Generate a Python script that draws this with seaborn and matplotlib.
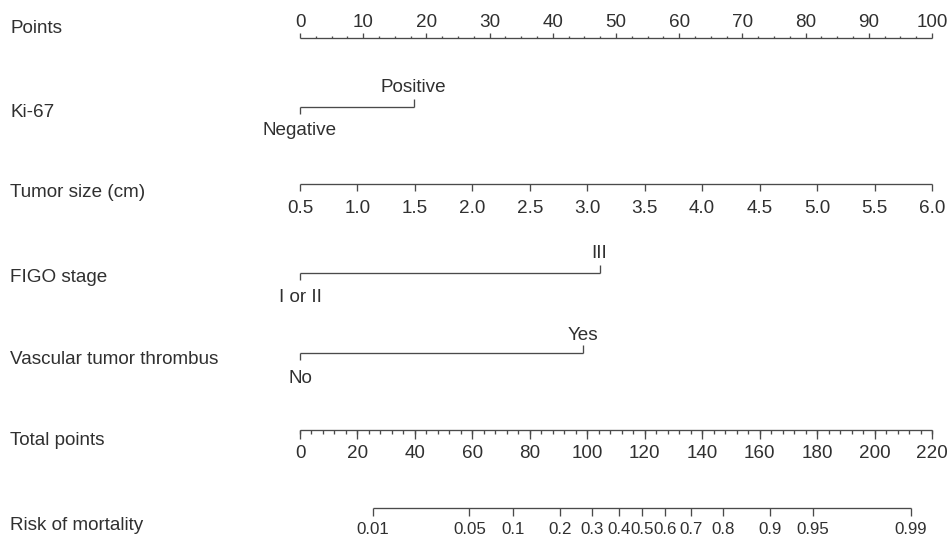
import numpy as np
import pandas as pd
import matplotlib
matplotlib.use("Agg")
import matplotlib.pyplot as plt
import seaborn as sns

# ---------------- data ----------------
row_names = ["Points", "Ki-67", "Tumor size (cm)", "FIGO stage",
             "Vascular tumor thrombus", "Total points", "Risk of mortality"]

points_major = [0, 10, 20, 30, 40, 50, 60, 70, 80, 90, 100]
points_minor_step = 2.5

ki67_levels = ["Negative", "Positive"]
ki67_points = [0.0, 18.0]

tumor_size_ticks = [0.5, 1.0, 1.5, 2.0, 2.5, 3.0, 3.5, 4.0, 4.5, 5.0, 5.5, 6.0]
tumor_size_tick_labels = ["0.5", "1.0", "1.5", "2.0", "2.5", "3.0", "3.5",
                          "4.0", "4.5", "5.0", "5.5", "6.0"]
tumor_size_range = [0.5, 6.0]
tumor_size_points_range = [0.0, 100.0]

figo_levels = ["I or II", "III"]
figo_points = [0.0, 47.4]

vascular_levels = ["No", "Yes"]
vascular_points = [0.0, 44.8]

total_major = [0, 20, 40, 60, 80, 100, 120, 140, 160, 180, 200, 220]
total_minor_step = 4
total_max = 220

risk_labels = ["0.01", "0.05", "0.1", "0.2", "0.3", "0.4", "0.5", "0.6",
               "0.7", "0.8", "0.9", "0.95", "0.99"]
risk_total_points = [25.4, 59.0, 74.1, 90.5, 101.6, 110.9, 119.0, 127.2,
                     136.0, 147.2, 163.7, 178.6, 212.7]

# ---------------- style / layout ----------------
sns.set_theme(style="white")
plt.rcParams["font.family"] = ["Liberation Sans", "DejaVu Sans"]

LINE = "#4a4a4a"
TXT = "#303030"
FS = 13.6
FS_RISK = 12.2
LW = 0.95

fig = plt.figure(figsize=(9.5, 5.37), dpi=100)
ax = fig.add_axes([0, 0, 1, 1])
px_per_pt = 6.32
x0_px = 300
ax.set_xlim(-x0_px / px_per_pt, (950 - x0_px) / px_per_pt)
ax.set_ylim(537, 0)

# vertical layout (pixel rows)
row_line_y = [38.3, 107.3, 184.3, 272.7, 353.3, 430.0, 508.0]
row_name_base = [33, 117, 197, 282, 364, 445, 530]

segs = []
def seg(xa, xb, ya, yb):
    segs.append(dict(x=[xa, xb], y=[ya, yb]))

texts = []
def txt(x, y, s, ha="center", fs=FS):
    texts.append((x, y, s, ha, fs))

# Points row
y = row_line_y[0]
seg(0, 100, y, y)
minors = np.arange(0, 100 + 1e-9, points_minor_step)
for v in minors:
    major = any(abs(v - m) < 1e-9 for m in points_major)
    seg(v, v, y, y - (5.0 if major else 2.6))
for m in points_major:
    txt(m, 27, str(m))

# Categorical rows
def cat_row(y, levels, pts, up_base, down_base):
    seg(pts[0], pts[1], y, y)
    seg(pts[0], pts[0], y, y + 7)
    seg(pts[1], pts[1], y, y - 8)
    txt(pts[0], down_base, levels[0])
    txt(pts[1], up_base, levels[1])

cat_row(row_line_y[1], ki67_levels, ki67_points, 92, 135)

# Tumor size row
y = row_line_y[2]
def ts_to_pts(v):
    a, b = tumor_size_range
    p0, p1 = tumor_size_points_range
    return p0 + (v - a) / (b - a) * (p1 - p0)
seg(ts_to_pts(tumor_size_ticks[0]), ts_to_pts(tumor_size_ticks[-1]), y, y)
for v, lab in zip(tumor_size_ticks, tumor_size_tick_labels):
    p = ts_to_pts(v)
    seg(p, p, y, y + 7)
    txt(p, 213.3, lab)

cat_row(row_line_y[3], figo_levels, figo_points, 258, 302.5)
cat_row(row_line_y[4], vascular_levels, vascular_points, 340, 383)

# Total points row
y = row_line_y[5]
sc = 100.0 / total_max
seg(0, total_max * sc, y, y)
for v in np.arange(0, total_max + 1e-9, total_minor_step):
    seg(v * sc, v * sc, y, y + 3.5)
for m in total_major:
    seg(m * sc, m * sc, y, y + 8.5)
    txt(m * sc, 458.3, str(m))

# Risk row
y = row_line_y[6]
seg(risk_total_points[0] * sc, risk_total_points[-1] * sc, y, y)
for v, lab in zip(risk_total_points, risk_labels):
    seg(v * sc, v * sc, y, y + 7.5)
    txt(v * sc, 533.5, lab, fs=FS_RISK)

# Build segment frame and draw through seaborn
rows = []
for i, s in enumerate(segs):
    for k in range(2):
        rows.append(dict(seg=i, order=k, x=s["x"][k], y=s["y"][k]))
df = pd.DataFrame(rows)
sns.lineplot(data=df, x="x", y="y", units="seg", estimator=None, sort=False,
             color=LINE, linewidth=LW, ax=ax, solid_capstyle="butt")

for (x, yy, s, ha, fs) in texts:
    ax.text(x, yy, s, ha=ha, va="baseline", fontsize=fs, color=TXT)

for name, yb in zip(row_names, row_name_base):
    ax.text(-x0_px / px_per_pt + 10 / px_per_pt, yb, name, ha="left",
            va="baseline", fontsize=FS, color=TXT)

ax.set_xlim(-x0_px / px_per_pt, (950 - x0_px) / px_per_pt)
ax.set_ylim(537, 0)
ax.axis("off")

fig.savefig("out.png", dpi=100)
